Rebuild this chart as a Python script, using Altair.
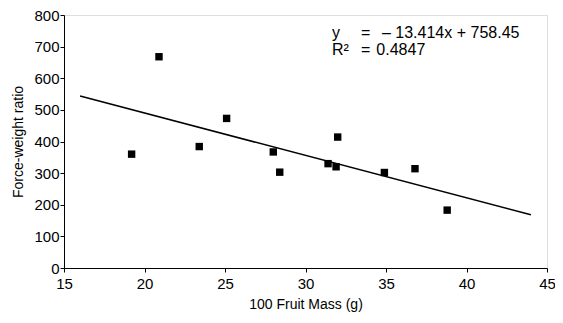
import altair as alt
import pandas as pd

mass = [19.2, 20.9, 23.4, 25.1, 28.0, 28.4, 31.4, 31.9, 32.0, 34.9, 36.8, 38.8]
ratio = [360, 668, 384, 473, 367, 303, 330, 320, 414, 302, 314, 183]

slope = -13.414
intercept = 758.45
fit_x = [16, 44]

ann_x = [31.65, 33.45, 34.75, 31.65, 33.45, 34.4]
ann_y = [727, 727, 727, 674, 674, 674]
ann_text = ["y", "=", "\u2013 13.414x + 758.45", "R\u00b2", "=", "0.4847"]

pts = pd.DataFrame({"x": mass, "y": ratio})
fit = pd.DataFrame({"x": fit_x, "y": [intercept + slope * v for v in fit_x]})
ann = pd.DataFrame({"x": ann_x, "y": ann_y, "t": ann_text})

xs = alt.Scale(domain=[15, 45], nice=False, zero=False)
ys = alt.Scale(domain=[0, 800], nice=False)

common = dict(grid=False, domainColor="black", tickColor="black", tickSize=4,
              labelFontSize=15, labelColor="black", labelFont="Liberation Sans",
              titleFont="Liberation Sans", titleFontSize=14, titleFontWeight="normal",
              titleColor="black", labelOverlap=False, labelFlush=False)
xax = alt.Axis(values=[15, 20, 25, 30, 35, 40, 45], title="100 Fruit Mass (g)",
               labelPadding=4, titlePadding=6, **common)
yax = alt.Axis(values=[0, 100, 200, 300, 400, 500, 600, 700, 800], title="Force-weight ratio",
               labelPadding=1, titlePadding=8, **common)

points = alt.Chart(pts).mark_point(shape="square", filled=True, color="black", size=55, opacity=1)
line = alt.Chart(fit).mark_line(color="black", strokeWidth=1.5)
text = alt.Chart(ann).mark_text(align="left", baseline="alphabetic", fontSize=16,
                                font="Liberation Sans", color="black").encode(text="t:N")

chart = alt.layer(points, line, text).encode(
    x=alt.X("x:Q", scale=xs, axis=xax),
    y=alt.Y("y:Q", scale=ys, axis=yax),
).properties(
    width=483, height=253,
    padding={"left": 56, "top": 7, "right": 8, "bottom": 47},
    autosize=alt.AutoSizeParams(type="none"),
).configure_view(stroke="#000000", strokeWidth=1.5, strokeOpacity=1).configure(background="white")

chart.save("out.html", embed_options={"renderer": "svg", "actions": False})
